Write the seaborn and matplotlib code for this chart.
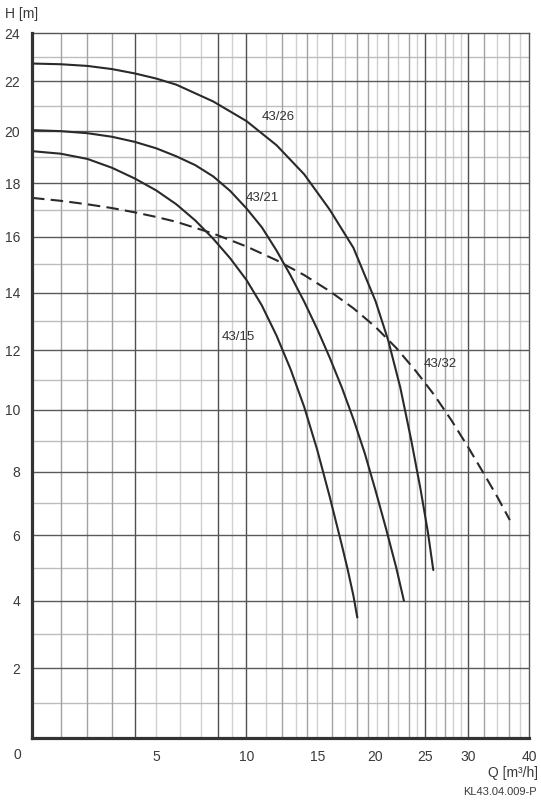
import numpy as np
import pandas as pd
import matplotlib
matplotlib.use('Agg')
import matplotlib.pyplot as plt
import seaborn as sns

# pump curves (Q in m3/h, H in m)
q_26 = [0, 1, 2, 3, 4, 5, 6, 8, 10, 12, 14, 16, 18, 20, 21.2, 22.4, 23.5, 24.5, 25.3, 25.9]
h_26 = [22.73, 22.70, 22.63, 22.5, 22.32, 22.11, 21.86, 21.18, 20.40, 19.45, 18.33, 17.0, 15.6, 13.7, 12.35, 10.75, 9.05, 7.45, 6.1, 4.93]

q_21 = [0, 1, 2, 3, 4, 5, 6, 7, 8, 9, 10, 11, 12, 13, 14, 15, 16, 17, 18, 19, 20, 21, 22, 22.77]
h_21 = [20.04, 20.0, 19.92, 19.78, 19.58, 19.33, 19.02, 18.68, 18.25, 17.7, 17.05, 16.35, 15.5, 14.6, 13.68, 12.73, 11.75, 10.75, 9.7, 8.6, 7.4, 6.2, 5.0, 4.0]

q_15 = [0, 1, 2, 3, 4, 5, 6, 7, 8, 9, 10, 11, 12, 13, 14, 15, 16, 17, 17.5, 18, 18.34]
h_15 = [19.22, 19.12, 18.92, 18.58, 18.17, 17.72, 17.2, 16.6, 15.93, 15.22, 14.45, 13.55, 12.5, 11.35, 10.1, 8.7, 7.2, 5.7, 4.95, 4.15, 3.5]

q_32 = [0, 1, 2, 3, 4, 5, 6, 8, 10, 12, 14, 16, 18, 20, 22, 24, 26, 28, 30, 32, 34, 36.07]
h_32 = [17.44, 17.33, 17.2, 17.06, 16.9, 16.73, 16.55, 16.12, 15.65, 15.15, 14.62, 14.05, 13.45, 12.8, 12.08, 11.3, 10.5, 9.65, 8.78, 7.95, 7.2, 6.47]

pumps = ['43/26', '43/21', '43/15', '43/32']

x_ticks = [0, 5, 10, 15, 20, 25, 30, 40]
y_ticks = list(range(0, 25, 2))

# vertical grid of the original sheet (three shades)
grid_dark = [4, 8.3, 10, 25, 30]
grid_mid = [1, 2, 3, 12.4, 14.2, 16.2, 18.3, 19.3, 21.2, 23.3, 27.2, 32, 36]
grid_light = [5, 6.2, 7.3, 9.1, 11.3, 13.4, 15, 17.3, 20.1, 22.2, 24.1, 26.2, 28.2, 29.1, 34, 38]


# the sheet uses a stretched Q axis and a slightly compressed H axis
def q_fwd(q):
    q = np.asarray(q, dtype=float)
    with np.errstate(all='ignore'):
        return 331.6 * np.log1p(q / 11.0) - 0.113 * np.clip(q - 30, 0, None) ** 2


_qg = np.linspace(-10.9, 52, 4000)
_fg = q_fwd(_qg)


def q_inv(v):
    return np.interp(np.asarray(v, dtype=float), _fg, _qg)


def h_fwd(h):
    h = np.asarray(h, dtype=float)
    return h - h ** 2 / 144.1


def h_inv(v):
    v = np.asarray(v, dtype=float)
    with np.errstate(all='ignore'):
        return (1 - np.sqrt(np.clip(1 - 4 * v / 144.1, 0, None))) * 144.1 / 2


df = pd.concat([
    pd.DataFrame({'Q': q_26, 'H': h_26, 'pump': '43/26'}),
    pd.DataFrame({'Q': q_21, 'H': h_21, 'pump': '43/21'}),
    pd.DataFrame({'Q': q_15, 'H': h_15, 'pump': '43/15'}),
    pd.DataFrame({'Q': q_32, 'H': h_32, 'pump': '43/32'}),
], ignore_index=True)

sns.set_style('white')
plt.rcParams['font.family'] = ['Liberation Sans', 'DejaVu Sans']

fig = plt.figure(figsize=(5.41, 8.01), dpi=100)
ax = fig.add_axes([32 / 541, 1 - 737.7 / 801, 497.3 / 541, 704.4 / 801])

line_col = '#2a2a2a'
sns.lineplot(data=df, x='Q', y='H', hue='pump', style='pump',
             palette={p: line_col for p in pumps},
             dashes={'43/26': '', '43/21': '', '43/15': '', '43/32': (6, 3)},
             sort=False, estimator=None, legend=False, linewidth=1.5, ax=ax, zorder=3)

ax.set_xscale('function', functions=(q_fwd, q_inv))
ax.set_yscale('function', functions=(h_fwd, h_inv))
ax.set_xlim(0, 40)
ax.set_ylim(0, 24)

for q in grid_light:
    ax.axvline(q, color='#d0d0d0', lw=1, zorder=0.5)
for q in grid_mid:
    ax.axvline(q, color='#a2a2a2', lw=1, zorder=0.6)
for q in grid_dark:
    ax.axvline(q, color='#505050', lw=1, zorder=0.7)
for h in range(1, 24, 2):
    ax.axhline(h, color='#bdbdbd', lw=1, zorder=0.5)
for h in range(2, 24, 2):
    ax.axhline(h, color='#5a5a5a', lw=1, zorder=0.7)

ax.set_xticks(x_ticks)
ax.set_xticklabels([''] + [str(v) for v in x_ticks[1:]])
ax.set_yticks(y_ticks)
ax.set_yticklabels([''] + [str(v) for v in y_ticks[1:]])
ax.minorticks_off()
ax.tick_params(direction='out', length=3.5, width=1.6, color='#333333',
               labelsize=10, labelcolor='#3a3a3a', pad=5)
ax.set_xlabel('')
ax.set_ylabel('')

for side in ['left', 'bottom']:
    ax.spines[side].set_linewidth(2.3)
    ax.spines[side].set_color('#333333')
for side in ['top', 'right']:
    ax.spines[side].set_linewidth(1.0)
    ax.spines[side].set_color('#555555')
ax.spines['left'].set_zorder(4)
ax.spines['bottom'].set_zorder(4)

# curve names
txt = dict(fontsize=9.5, color='#333333', va='center', ha='left', zorder=5)
ax.text(11.0, 20.55, '43/26', **txt)
ax.text(9.98, 17.45, '43/21', **txt)
ax.text(8.49, 12.44, '43/15', **txt)
ax.text(24.8, 11.53, '43/32', **txt)

fig.text(17 / 541, 1 - 755 / 801, '0', fontsize=10, color='#3a3a3a', ha='center', va='center')
fig.text(5 / 541, 1 - 14 / 801, 'H [m]', fontsize=10, color='#3a3a3a', ha='left', va='center')
fig.text(538 / 541, 1 - 773 / 801, 'Q [m³/h]', fontsize=10, color='#3a3a3a', ha='right', va='center')
fig.text(537 / 541, 1 - 792 / 801, 'KL43.04.009-P', fontsize=8, color='#3a3a3a', ha='right', va='center')

fig.savefig('out.png', dpi=100)
plt.close(fig)
